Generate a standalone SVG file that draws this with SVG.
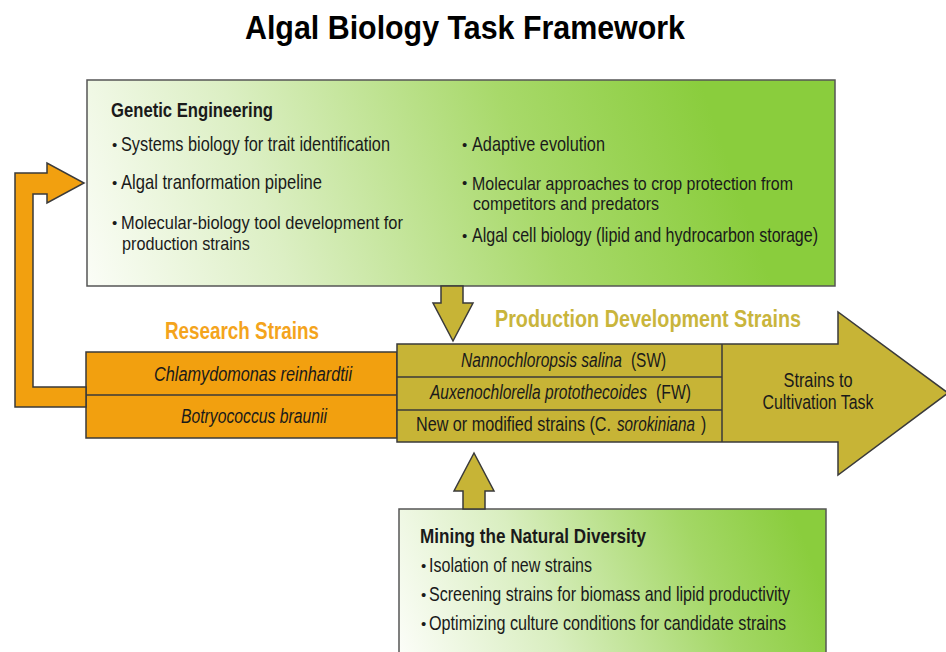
<svg xmlns="http://www.w3.org/2000/svg" width="946" height="652" viewBox="0 0 946 652">
<defs>
<linearGradient id="greenGE" gradientUnits="userSpaceOnUse" x1="90" y1="295" x2="700" y2="80">
<stop offset="0" stop-color="#fbfdf7"/>
<stop offset="0.3" stop-color="#dcefc4"/>
<stop offset="0.7" stop-color="#a8d96a"/>
<stop offset="1" stop-color="#8acd3d"/>
</linearGradient>
<linearGradient id="greenMN" gradientUnits="userSpaceOnUse" x1="405" y1="660" x2="790" y2="505">
<stop offset="0" stop-color="#fbfdf7"/>
<stop offset="0.35" stop-color="#d9eec0"/>
<stop offset="0.75" stop-color="#a3d765"/>
<stop offset="1" stop-color="#8acd3d"/>
</linearGradient>
<style>
text{font-family:"Liberation Sans Narrow","Liberation Sans",Arial,sans-serif;fill:#1a1a1a}
.title{font-size:34px;font-weight:bold;fill:#000}
.head{font-size:20px;font-weight:bold}
.body{font-size:20px}
.tight{font-size:18px}
.bul{font-size:15px}
.it{font-style:italic}
.strain{font-size:19.5px}
.lblO{font-size:23px;font-weight:bold;fill:#f4a41c}
.lblY{font-size:23px;font-weight:bold;fill:#c9b53c}
.boxGE{fill:url(#greenGE);stroke:#555;stroke-width:1.5}
.boxMN{fill:url(#greenMN);stroke:#555;stroke-width:1.5}
.orange{fill:#f2a00f;stroke:#3a3a3a;stroke-width:1.5}
.olive{fill:#c7b436;stroke:#3a3a3a;stroke-width:1.5}
.ln{stroke:#3a3a3a;stroke-width:1.5;fill:none}
.mid{text-anchor:middle}
</style>
</defs>
<rect width="946" height="652" fill="#ffffff"/>
<text class="title" x="245" y="39" textLength="440" lengthAdjust="spacingAndGlyphs">Algal Biology Task Framework</text>

<g id="genetic-engineering">
<rect class="boxGE" x="87" y="80" width="748" height="206"/>
<text class="head" transform="translate(111,117) scale(0.83,1)" textLength="195.2" lengthAdjust="spacingAndGlyphs">Genetic Engineering</text>
<text class="bul" x="112" y="150">•</text>
<text class="body" transform="translate(121,151) scale(0.83,1)" textLength="324.1" lengthAdjust="spacingAndGlyphs">Systems biology for trait identification</text>
<text class="bul" x="112" y="188">•</text>
<text class="body" transform="translate(121,189) scale(0.83,1)" textLength="242.2" lengthAdjust="spacingAndGlyphs">Algal tranformation pipeline</text>
<text class="bul" x="112" y="228">•</text>
<text class="tight" transform="translate(121,229) scale(0.92,1)" textLength="306.5" lengthAdjust="spacingAndGlyphs">Molecular-biology tool development for</text>
<text class="tight" transform="translate(122,249.5) scale(0.92,1)" textLength="139.1" lengthAdjust="spacingAndGlyphs">production strains</text>
<text class="bul" x="462" y="150">•</text>
<text class="body" transform="translate(472,151) scale(0.83,1)" textLength="160.2" lengthAdjust="spacingAndGlyphs">Adaptive evolution</text>
<text class="bul" x="462" y="188">•</text>
<text class="tight" transform="translate(472,189.5) scale(0.92,1)" textLength="348.9" lengthAdjust="spacingAndGlyphs">Molecular approaches to crop protection from</text>
<text class="tight" transform="translate(473,210) scale(0.92,1)" textLength="202.2" lengthAdjust="spacingAndGlyphs">competitors and predators</text>
<text class="bul" x="462" y="241">•</text>
<text class="body" transform="translate(472,242) scale(0.83,1)" textLength="416.9" lengthAdjust="spacingAndGlyphs">Algal cell biology (lipid and hydrocarbon storage)</text>
</g>

<g id="research-strains">
<text class="lblO" x="165" y="339" textLength="154" lengthAdjust="spacingAndGlyphs">Research Strains</text>
<rect class="orange" x="86" y="352" width="311" height="86"/>
<line class="ln" x1="86" y1="395" x2="397" y2="395"/>
<text class="strain it" transform="translate(154,381) scale(0.8,1)" textLength="247.5" lengthAdjust="spacingAndGlyphs">Chlamydomonas reinhardtii</text>
<text class="strain it" transform="translate(181,423) scale(0.8,1)" textLength="182.5" lengthAdjust="spacingAndGlyphs">Botryococcus braunii</text>
</g>

<g id="production-strains">
<text class="lblY" x="495" y="327" textLength="306" lengthAdjust="spacingAndGlyphs">Production Development Strains</text>
<polygon class="olive" points="397,344 838,344 838,312 948,393 838,475 838,442 397,442"/>
<line class="ln" x1="397" y1="377" x2="722" y2="377"/>
<line class="ln" x1="397" y1="410" x2="722" y2="410"/>
<line class="ln" x1="722" y1="344" x2="722" y2="442"/>
<text class="strain it" transform="translate(461,367) scale(0.8,1)" textLength="201.3" lengthAdjust="spacingAndGlyphs">Nannochloropsis salina</text>
<text class="strain" transform="translate(631,367) scale(0.8,1)" textLength="43.8" lengthAdjust="spacingAndGlyphs">(SW)</text>
<text class="strain it" transform="translate(430,399) scale(0.8,1)" textLength="271.3" lengthAdjust="spacingAndGlyphs">Auxenochlorella protothecoides</text>
<text class="strain" transform="translate(656,399) scale(0.8,1)" textLength="43.8" lengthAdjust="spacingAndGlyphs">(FW)</text>
<text class="strain" transform="translate(416,431) scale(0.8,1)" textLength="243.8" lengthAdjust="spacingAndGlyphs">New or modified strains (C.</text>
<text class="strain it" transform="translate(617,431) scale(0.8,1)" textLength="97.5" lengthAdjust="spacingAndGlyphs">sorokiniana</text>
<text class="strain" transform="translate(701,431) scale(0.8,1)">)</text>
</g>

<g id="cultivation-task">
<text class="strain mid" transform="translate(818,387) scale(0.8,1)" textLength="86.3" lengthAdjust="spacingAndGlyphs">Strains to</text>
<text class="strain mid" transform="translate(818,409) scale(0.8,1)" textLength="138.8" lengthAdjust="spacingAndGlyphs">Cultivation Task</text>
</g>

<g id="natural-diversity">
<rect class="boxMN" x="399" y="509" width="427" height="160"/>
<text class="head" transform="translate(420,543) scale(0.83,1)" textLength="272.3" lengthAdjust="spacingAndGlyphs">Mining the Natural Diversity</text>
<text class="bul" x="421" y="571">•</text>
<text class="body" transform="translate(429,572) scale(0.83,1)" textLength="196.4" lengthAdjust="spacingAndGlyphs">Isolation of new strains</text>
<text class="bul" x="421" y="600">•</text>
<text class="body" transform="translate(429,601) scale(0.83,1)" textLength="434.9" lengthAdjust="spacingAndGlyphs">Screening strains for biomass and lipid productivity</text>
<text class="bul" x="421" y="629">•</text>
<text class="body" transform="translate(429,630) scale(0.83,1)" textLength="430.1" lengthAdjust="spacingAndGlyphs">Optimizing culture conditions for candidate strains</text>
</g>

<g id="connectors">
<polygon class="orange" points="86,387 33,387 33,194 47,194 47,203 84,183 47,163 47,173 15,173 15,407 86,407"/>
<polygon class="olive" points="441,286 463,286 463,303 473,303 453,341 433,303 441,303"/>
<polygon class="olive" points="463,509 463,491 454,491 474,453 494,491 485,491 485,509"/>
</g>
</svg>
